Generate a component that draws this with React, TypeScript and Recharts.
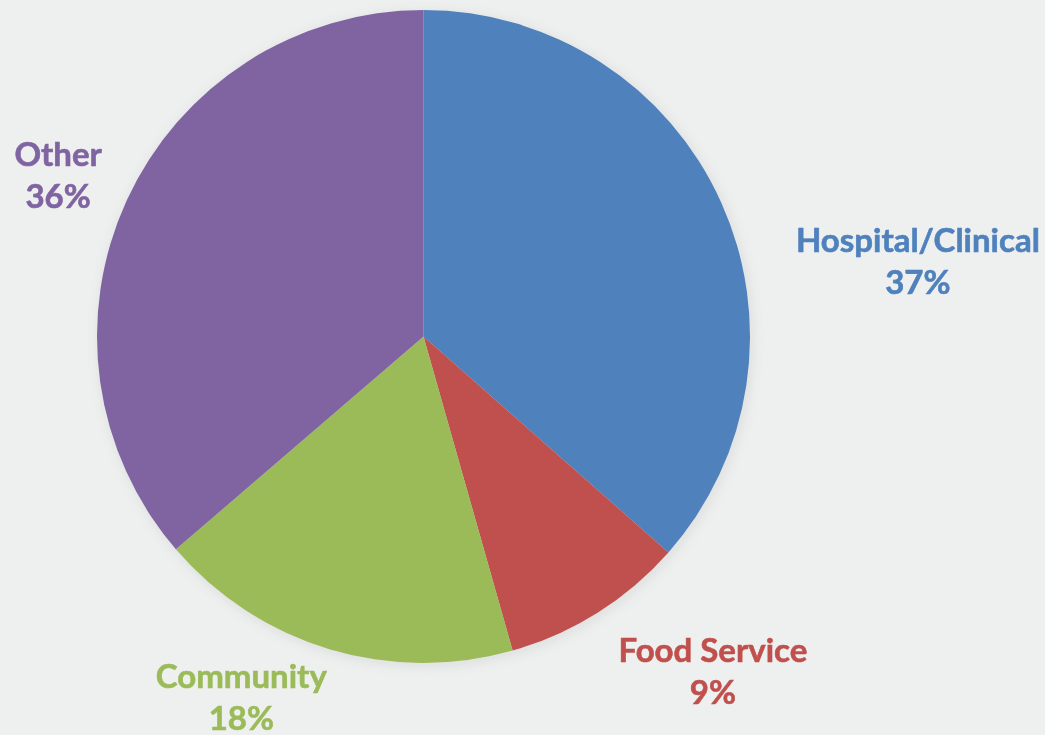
import React from 'react';
import { PieChart, Pie, Cell } from 'recharts';

const categories = ['Hospital/Clinical', 'Food Service', 'Community', 'Other'];
const shares = [36.5, 9.1, 18.1, 36.3];
const colors = ['#4F81BD', '#C0504D', '#9BBB59', '#8064A2'];

// hand placement of the data labels, relative to a point just outside the rim
const labelNudge = [
  [133, 79],
  [78, -10],
  [-68, -28],
  [-5, -5],
];

const data = categories.map((name, i) => ({ name, value: shares[i] }));

const RADIAN = Math.PI / 180;

const renderLabel = (props: any) => {
  const { cx, cy, midAngle, outerRadius, index, value, name } = props;
  const r = outerRadius + 70;
  const [dx, dy] = labelNudge[index] || [0, 0];
  const x = cx + r * Math.cos(-midAngle * RADIAN) + dx;
  const y = cy + r * Math.sin(-midAngle * RADIAN) + dy;
  return (
    <text
      x={x}
      y={y}
      fill={colors[index]}
      textAnchor="middle"
      fontFamily="Lato, 'Open Sans', sans-serif"
      fontWeight={700}
      fontSize={33}
      stroke={colors[index]}
      strokeWidth={0.6}
    >
      <tspan x={x} y={y}>{name}</tspan>
      <tspan x={x} y={y + 42}>{`${Math.round(value)}%`}</tspan>
    </text>
  );
};

const noMargin = { top: 0, right: 0, bottom: 0, left: 0 };

export default function App() {
  return (
    <div style={{ width: 1045, height: 735, background: '#EEF0EF', overflow: 'hidden' }}>
      <style>{`
        body { margin: 0; }
        .pie-shadow { filter: blur(5px); opacity: 0.35; }
      `}</style>
      <PieChart width={1045} height={735} margin={noMargin}>
        {/* soft shadow under the pie */}
        <Pie
          className="pie-shadow"
          data={data}
          dataKey="value"
          nameKey="name"
          cx={425.5}
          cy={339}
          outerRadius={326.5}
          startAngle={90}
          endAngle={-270}
          stroke="none"
          fill="#5a5a5a"
          labelLine={false}
          isAnimationActive={false}
        />
        <Pie
          data={data}
          dataKey="value"
          nameKey="name"
          cx={423.5}
          cy={336.5}
          outerRadius={326.5}
          startAngle={90}
          endAngle={-270}
          stroke="none"
          label={renderLabel}
          labelLine={false}
          isAnimationActive={false}
        >
          {data.map((d, i) => (
            <Cell key={d.name} fill={colors[i]} />
          ))}
        </Pie>
      </PieChart>
    </div>
  );
}
